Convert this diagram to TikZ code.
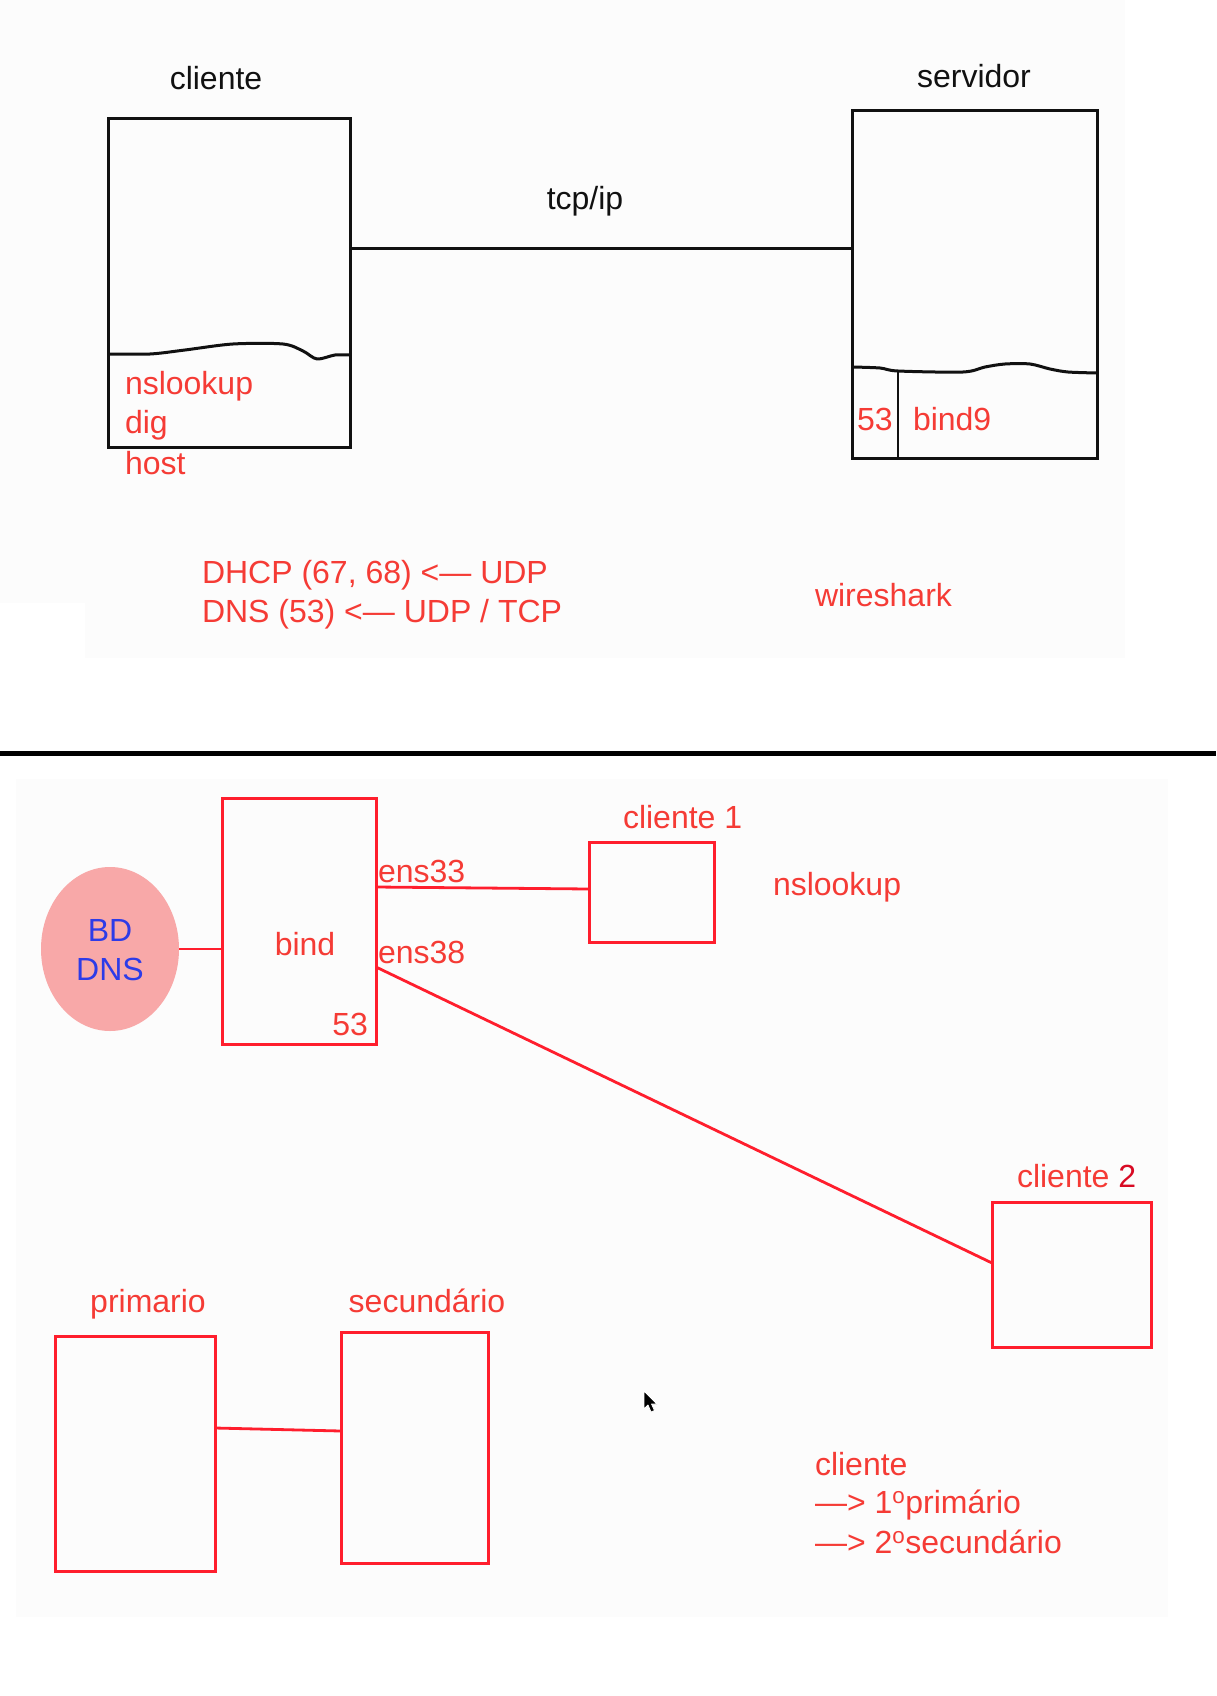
\documentclass[tikz,border=0pt]{standalone}
\usepackage{fontspec}
\setmainfont{Liberation Sans}
\usetikzlibrary{shapes.geometric}
\definecolor{inkred}{HTML}{F53B35}
\definecolor{linered}{HTML}{FF1E2D}
\definecolor{deepred}{HTML}{D80A24}
\definecolor{dbblue}{HTML}{2D3BE8}
\definecolor{dbpink}{HTML}{F8A8A8}
\definecolor{panel}{HTML}{FCFCFC}
\definecolor{inkblack}{HTML}{111111}

\begin{document}
\begin{tikzpicture}[x=1pt,y=-1pt,
  every node/.style={inner sep=0pt, outer sep=0pt, font=\fontsize{32}{38}\selectfont},
  blackbox/.style={draw=inkblack, line width=3pt, rectangle},
  redbox/.style={draw=linered, line width=3pt, rectangle},
  blk/.style={draw=inkblack, line width=3pt},
  redline/.style={draw=linered, line width=2.8pt},
  redtxt/.style={text=inkred},
  blktxt/.style={text=inkblack},
  bluetxt/.style={text=dbblue},
]
\useasboundingbox (0,0) rectangle (1216,1696);
\fill[white] (0,0) rectangle (1216,1696);
% faint panels behind the two sketches
\fill[panel] (0,0) rectangle (85,603);
\fill[panel] (85,0) rectangle (1125,658);
\fill[panel] (16,779) rectangle (1168,1617);

% ---------------- upper sketch: client / server ----------------
\node[blackbox, minimum width=242pt, minimum height=328pt] (cli) at (229,283) {};
\node[blackbox, minimum width=245pt, minimum height=347pt] (srv) at (974.5,284.5) {};

\node[blktxt, anchor=base] (clilbl) at (216,90) {cliente};
\node[blktxt, anchor=base] (srvlbl) at (974,88) {servidor};
\node[blktxt, anchor=base] (tcplbl) at (585,210) {tcp/ip};

\coordinate (tcpy) at (600,249);
\draw[blk] (cli.east |- tcpy) -- (srv.west |- tcpy);

% hand-drawn dividers inside the boxes
\draw[blk, line join=round] plot[smooth, tension=0.5] coordinates
  {(108,354) (150,354) (185,350) (233,344) (283,344) (303,351) (317,359) (335,355) (350,355)};
\draw[blk, line join=round] plot[smooth, tension=0.5] coordinates
  {(852,367) (880,368) (898,371) (963,372) (985,367) (1005,364) (1030,364) (1050,369) (1068,372) (1097,373)};
\coordinate (portx) at (898,371);
\draw[blk, line width=2.2pt] (portx) -- (portx |- srv.south);

\node[redtxt, anchor=base west] (nsl) at (125,394) {nslookup};
\node[redtxt, anchor=base west] (dig) at (125,433) {dig};
\node[redtxt, anchor=base west] (hst) at (125,474) {host};

\node[redtxt, anchor=base west] (p53) at (857,430) {53};
\node[redtxt, anchor=base west] (b9) at (913,430) {bind9};

\node[redtxt, anchor=base west] (dhcp) at (202,583) {DHCP (67, 68) <— UDP};
\node[redtxt, anchor=base west] (dnsl) at (202,622) {DNS (53) <— UDP / TCP};
\node[redtxt, anchor=base west] (wsh) at (815,606) {wireshark};

% separator between the two sketches
\fill[black] (0,751) rectangle (1216,756);

% ---------------- lower sketch: bind with two clients ----------------
\node[ellipse, fill=dbpink, minimum width=138pt, minimum height=164pt] (db) at (110,949) {};
\node[bluetxt, anchor=base] (bd) at (110,941) {BD};
\node[bluetxt, anchor=base] (dns) at (110,980) {DNS};

\node[redbox, minimum width=154pt, minimum height=246pt] (bind) at (299,921) {};
\node[redtxt, anchor=base] (bindlbl) at (305,955) {bind};
\node[redtxt, anchor=base east] (b53) at (368,1035) {53};

\draw[redline] (db.east) -- (bind.west |- db.east);

\node[redbox, minimum width=125pt, minimum height=100pt] (c1) at (651.5,892) {};
\node[redtxt, anchor=base west] (c1lbl) at (623,828) {cliente 1};
\node[redtxt, anchor=base west] (nsl2) at (773,895) {nslookup};

\node[redbox, minimum width=159pt, minimum height=145pt] (c2) at (1071.5,1274.5) {};
\node[redtxt, anchor=base west] (c2lbl) at (1017,1187) {cliente {\color{deepred}2}};

\node[redtxt, anchor=base west] (e33) at (378,882) {ens33};
\node[redtxt, anchor=base west] (e38) at (378,963) {ens38};

\coordinate (y33a) at (0,887);
\coordinate (y33b) at (0,889);
\coordinate (y38a) at (0,967);
\coordinate (y38b) at (0,1263);
\draw[redline] (bind.east |- y33a) -- (c1.west |- y33b);
\draw[redline] (bind.east |- y38a) -- (c2.west |- y38b);

% primary / secondary pair
\node[redbox, minimum width=160pt, minimum height=235pt] (prim) at (135,1453.5) {};
\node[redbox, minimum width=147pt, minimum height=231pt] (sec) at (414.5,1447.5) {};
\node[redtxt, anchor=base] (primlbl) at (148,1312) {primario};
\node[redtxt, anchor=base] (seclbl) at (427,1312) {secundário};
\coordinate (yp1) at (0,1428);
\coordinate (yp2) at (0,1431);
\draw[redline] (prim.east |- yp1) -- (sec.west |- yp2);

\node[redtxt, anchor=base west] (cl) at (815,1475) {cliente};
\node[redtxt, anchor=base west] (o1) at (815,1513) {—> 1\textsuperscript{o}primário};
\node[redtxt, anchor=base west] (o2) at (815,1553) {—> 2\textsuperscript{o}secundário};

% mouse pointer
\filldraw[fill=black, draw=white, line width=0.8pt, line join=round]
  (644,1391) -- (644,1409) -- (648,1405) -- (651,1412) -- (654.5,1410.5) -- (651.5,1404) -- (657,1404) -- cycle;
\end{tikzpicture}
\end{document}
